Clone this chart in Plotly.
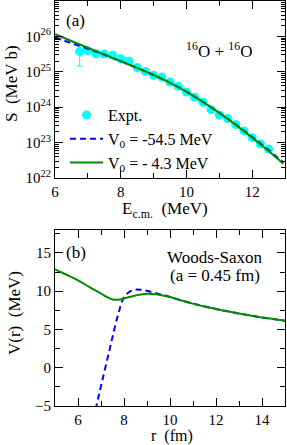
import plotly.graph_objects as go

# ---- Panel (a): astrophysical S-factor ----
e_expt = [6.75, 7.0, 7.25, 7.5, 7.75, 8.0, 8.25, 8.5, 8.75, 9.0, 9.25, 9.5,
          9.75, 10.0, 10.25, 10.5, 10.75, 11.0, 11.25, 11.5, 11.75, 12.0, 12.25, 12.5]
logs_expt = [25.57, 25.59, 25.51, 25.50, 25.47, 25.37, 25.30, 25.12, 25.01, 24.90, 24.85, 24.71,
             24.59, 24.43, 24.28, 24.14, 23.93, 23.78, 23.68, 23.51, 23.33, 23.14, 22.96, 22.82]
s_expt = [10.0 ** v for v in logs_expt]
err_plus = [1.65e25, 0.45e25] + [0.0] * 22
err_minus = [2.27e25, 0.45e25] + [0.0] * 22

e_calc = [6.0, 6.5, 7.0, 7.5, 8.0, 8.5, 9.0, 9.5, 10.0, 10.5, 11.0, 11.5, 12.0, 12.5, 12.95]
logs_green = [26.06, 25.87, 25.68, 25.49, 25.30, 25.11, 24.91, 24.69, 24.44, 24.15, 23.84, 23.50, 23.14, 22.76, 22.40]
logs_blue = [25.97, 25.81, 25.65, 25.48, 25.30, 25.11, 24.91, 24.69, 24.44, 24.15, 23.84, 23.51, 23.16, 22.79, 22.44]
s_green = [10.0 ** v for v in logs_green]
s_blue = [10.0 ** v for v in logs_blue]

# ---- Panel (b): Woods-Saxon + Coulomb potential ----
r_green = [5.0, 5.5, 6.0, 6.5, 7.0, 7.25, 7.5, 7.75, 8.0, 8.5, 9.0, 9.5, 10.0,
           10.5, 11.0, 11.5, 12.0, 12.5, 13.0, 13.5, 14.0, 14.5, 15.0]
v_green = [12.85, 12.15, 11.42, 10.55, 9.7, 9.25, 8.93, 8.88, 9.05, 9.45, 9.68, 9.55, 9.25,
           8.78, 8.38, 8.01, 7.68, 7.37, 7.09, 6.83, 6.58, 6.36, 6.14]
r_blue = [6.6, 6.8, 7.0, 7.25, 7.5, 7.75, 8.0, 8.25, 8.5, 8.75, 9.0, 9.5, 10.0,
          10.5, 11.0, 11.5, 12.0, 12.5, 13.0, 13.5, 14.0, 14.5, 15.0]
v_blue = [-8.0, -5.0, -2.4, 0.8, 4.0, 7.0, 9.2, 9.95, 10.2, 10.18, 10.05, 9.65, 9.25,
          8.78, 8.38, 8.01, 7.68, 7.37, 7.09, 6.83, 6.58, 6.36, 6.14]

CYAN = "#00FFFF"
BLUE = "#0000FF"
GREEN = "#008B00"
FONT = "Liberation Serif, Times New Roman, serif"

fig = go.Figure()
fig.add_trace(go.Scatter(x=e_expt, y=s_expt, mode="markers", name="Expt.",
                         marker=dict(color=CYAN, size=9),
                         error_y=dict(type="data", symmetric=False, array=err_plus,
                                      arrayminus=err_minus, color=CYAN, thickness=1, width=3),
                         xaxis="x", yaxis="y"))
fig.add_trace(go.Scatter(x=e_calc, y=s_blue, mode="lines", name="V<sub>0</sub> = -54.5 MeV",
                         line=dict(color=BLUE, width=2, dash="6px,4px", shape="spline"),
                         xaxis="x", yaxis="y"))
fig.add_trace(go.Scatter(x=e_calc, y=s_green, mode="lines", name="V<sub>0</sub> = - 4.3 MeV",
                         line=dict(color=GREEN, width=2, shape="spline"),
                         xaxis="x", yaxis="y"))
fig.add_trace(go.Scatter(x=r_blue, y=v_blue, mode="lines", showlegend=False,
                         line=dict(color=BLUE, width=2, dash="6px,4px", shape="spline"),
                         xaxis="x2", yaxis="y2"))
fig.add_trace(go.Scatter(x=r_green, y=v_green, mode="lines", showlegend=False,
                         line=dict(color=GREEN, width=2, shape="spline"),
                         xaxis="x2", yaxis="y2"))

XDOM = [55 / 287, 285 / 287]
axis_common = dict(showline=True, linecolor="black", linewidth=1, mirror="allticks",
                   ticks="inside", ticklen=8, tickcolor="black", tickwidth=1,
                   showgrid=False, zeroline=False, automargin=False,
                   tickfont=dict(family=FONT, size=15, color="black"))

minor_log = [m * 10.0 ** d for d in range(22, 27) for m in range(2, 10)]

fig.update_layout(
    width=287, height=445,
    margin=dict(l=0, r=0, t=0, b=0),
    paper_bgcolor="white", plot_bgcolor="white",
    font=dict(family=FONT, size=16, color="black"),
    xaxis=dict(domain=XDOM, anchor="y", range=[6, 13], tick0=6, dtick=2,
               minor=dict(dtick=1, ticks="inside", ticklen=5, tickcolor="black"),
               **axis_common),
    yaxis=dict(domain=[1 - 178 / 445, 1 - 1 / 445], anchor="x", type="log", range=[22, 27],
               tickvals=[1e22, 1e23, 1e24, 1e25, 1e26],
               ticktext=["10<sup>22</sup>", "10<sup>23</sup>", "10<sup>24</sup>",
                         "10<sup>25</sup>", "10<sup>26</sup>"],
               minor=dict(tickmode="array", tickvals=minor_log, ticks="inside",
                          ticklen=4, tickcolor="black"),
               **axis_common),
    xaxis2=dict(domain=XDOM, anchor="y2", range=[5, 15], tick0=6, dtick=2,
                minor=dict(dtick=1, ticks="inside", ticklen=5, tickcolor="black"),
                **axis_common),
    yaxis2=dict(domain=[1 - 406 / 445, 1 - 230 / 445], anchor="x2", range=[-5, 18],
                tick0=-5, dtick=5,
                minor=dict(dtick=2.5, ticks="inside", ticklen=5, tickcolor="black"),
                **axis_common),
    legend=dict(x=65 / 287, y=1 - 98 / 445, xanchor="left", yanchor="top",
                bgcolor="rgba(0,0,0,0)", font=dict(family=FONT, size=16),
                tracegroupgap=0, itemwidth=33),
    showlegend=True,
)

def ann(text, x, y, size=17, angle=0):
    fig.add_annotation(text=text, x=x / 287, y=1 - y / 445, xref="paper", yref="paper",
                       showarrow=False, textangle=angle,
                       font=dict(family=FONT, size=size, color="black"),
                       xanchor="center", yanchor="middle")

ann("(a)", 75, 21, 17)
ann("<sup>16</sup>O + <sup>16</sup>O", 219, 50, 17)
ann("S  (MeV b)", 11, 84, 17, -90)
ann("E<sub>c.m.</sub>  (MeV)", 165, 210, 17)
ann("(b)", 76, 252, 17)
ann("Woods-Saxon", 214, 257, 17)
ann("(a = 0.45 fm)", 215, 275, 17)
ann("V(r)  (MeV)", 14, 313, 17, -90)
ann("r  (fm)", 172, 436, 16)

fig.write_html("out.html", config={"displayModeBar": False},
               post_script="document.body.style.margin='0';document.body.style.padding='0';")
